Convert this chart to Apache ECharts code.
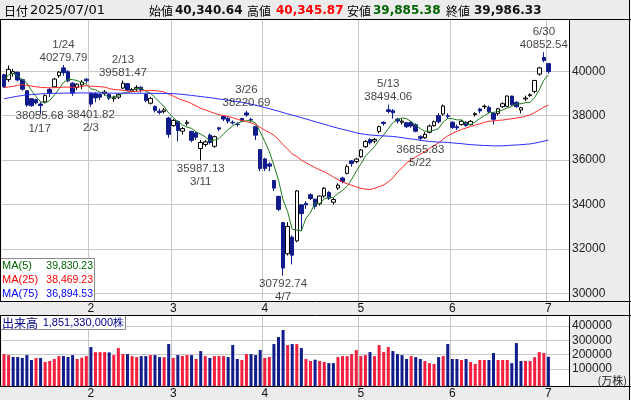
<!DOCTYPE html>
<html><head><meta charset="utf-8">
<script src="https://cdn.jsdelivr.net/npm/echarts@6/dist/echarts.min.js"></script>
<style>html,body{margin:0;padding:0;background:#ececec}#c{width:631px;height:400px}</style>
</head><body><div id="c"></div>
<script>
// ---------------- data ----------------
const year = 2025;
const dates = ['1/6','1/7','1/8','1/9','1/10','1/14','1/15','1/16','1/17','1/20','1/21','1/22','1/23','1/24','1/27','1/28','1/29','1/30','1/31',
'2/3','2/4','2/5','2/6','2/7','2/10','2/12','2/13','2/14','2/17','2/18','2/19','2/20','2/21','2/25','2/26','2/27','2/28',
'3/3','3/4','3/5','3/6','3/7','3/10','3/11','3/12','3/13','3/14','3/17','3/18','3/19','3/21','3/24','3/25','3/26','3/27','3/28','3/31',
'4/1','4/2','4/3','4/4','4/7','4/8','4/9','4/10','4/11','4/14','4/15','4/16','4/17','4/18','4/21','4/22','4/23','4/24','4/25','4/28','4/30',
'5/1','5/2','5/7','5/8','5/9','5/12','5/13','5/14','5/15','5/16','5/19','5/20','5/21','5/22','5/23','5/26','5/27','5/28','5/29','5/30',
'6/2','6/3','6/4','6/5','6/6','6/9','6/10','6/11','6/12','6/13','6/16','6/17','6/18','6/19','6/20','6/23','6/24','6/25','6/26','6/27','6/30',
'7/1'];
const openP = [39840,39620,39900,39950,39620,39120,38760,38720,38520,38620,39180,39300,39800,40150,39980,39460,39270,39380,39640,
39000,38980,38950,39000,38950,38760,38830,39240,39440,39100,39200,39280,38950,38560,38420,38200,38180,37890,
37550,37740,37300,37650,37290,37220,36520,36700,37120,36620,37450,37960,37880,37700,37620,37870,38120,37830,37500,36470,
36050,35820,35080,34360,33190,31780,32530,32360,33985,34050,34440,34240,34030,34380,34540,34100,34740,35190,35400,35960,35930,
36150,36600,36920,36850,37290,37700,38260,38220,37840,37700,37680,37700,37590,37050,37000,37250,37550,38000,38070,37990,
37700,37500,37600,37700,37600,38050,38300,38400,38370,38100,38100,38400,38420,38880,38600,38250,38750,38900,39090,39870,40620,
40340.64];
const closeP = [39307.05,40083.30,39981.06,39605.09,39190.40,38474.30,38444.58,38572.60,38451.46,38902.50,39027.98,39646.25,39958.87,39931.98,39565.80,39016.87,39414.78,39513.97,39572.49,
38520.09,38798.37,38831.48,39066.53,38787.02,38801.17,38963.70,39461.47,39149.43,39174.25,39270.40,39164.61,38678.04,38776.94,38237.79,38142.37,38256.17,37155.50,
37785.47,37331.18,37418.24,37704.93,36887.17,37028.27,36793.11,36819.09,36790.03,37053.10,37396.52,37845.42,37751.88,37677.06,37608.49,37780.54,38027.29,37799.97,37120.33,35617.56,
35624.48,35725.87,34735.93,33780.58,31136.58,33012.58,31714.03,34609.00,33585.58,33982.36,34267.54,33920.40,34377.60,34730.28,34279.92,34220.60,34868.63,35039.15,35705.74,35839.99,36045.38,
36452.30,36830.69,36779.66,36928.63,37503.33,37644.26,38183.26,38128.13,37755.51,37753.72,37498.63,37529.49,37298.98,36985.87,37160.47,37531.53,37724.11,37722.40,38432.98,37965.10,
37470.67,37446.81,37747.45,37554.49,37741.61,38088.57,38211.51,38421.19,38173.09,37834.25,38311.33,38536.74,38885.15,38488.34,38403.23,38354.09,38790.56,38942.07,39584.58,40150.79,40487.39,
39986.33];
const lowP = [39250,39520,39760,39550,39120,38400,38400,38500,38055.68,38560,38840,39260,39700,39800,39500,38890,39150,39200,39450,
38401.82,38600,38700,38900,38700,38620,38750,39200,39100,39050,39100,39050,38600,38500,38150,38050,38100,37000,
37500,36840,37150,37550,36800,36900,35987.13,36600,36700,36550,37300,37750,37650,37600,37500,37700,37950,37700,36900,35500,
35500,35500,34600,33700,30792.74,31700,31300,32300,32800,33800,34200,33800,33950,34300,34200,34000,34650,34950,35350,35700,35850,
36100,36550,36700,36750,37200,37550,38100,37860,37650,37600,37450,37450,37250,36855.83,36950,37200,37500,37650,38000,37850,
37400,37350,37550,37500,37550,37950,38100,38300,38100,37600,38000,38350,38400,38450,38350,38100,38650,38850,39000,39800,40400,
39885.38];
const highP = [39880,40260,40110,39990,39650,39150,38800,38760,38620,38960,39250,39700,40000,40279.79,40050,39500,39450,39600,39700,
39050,39050,39000,39150,39000,38900,39000,39581.47,39470,39250,39370,39320,39000,38850,38450,38320,38350,37950,
37850,37780,37500,37800,37320,37280,36900,36900,37200,37100,37500,37980,37950,37780,37700,37900,38220.69,37900,37550,36500,
36100,35900,35100,34400,33200,33200,32600,34650,34000,34150,34500,34260,34400,34780,34600,34300,34950,35250,35800,36000,36100,
36500,36900,36980,37000,37550,37750,38494.06,38300,37900,37850,37720,37750,37650,37120,37250,37600,37780,38120,38500,38100,
37750,37600,37800,37750,37800,38150,38350,38500,38450,38150,38350,38600,38900,38900,38650,38400,38900,39000,39600,40200,40852.54,
40345.87];
// volume in 万株
const volume = [204000,197000,184000,184000,177000,197000,163000,177000,177000,149000,156000,170000,190000,190000,184000,197000,170000,179000,190000,
253000,218000,218000,218000,216000,197000,246000,204000,204000,190000,183000,190000,190000,197000,197000,183000,183000,274000,
177000,197000,190000,197000,197000,170000,225000,190000,177000,190000,190000,190000,183000,267000,170000,163000,204000,204000,197000,232000,
177000,184000,274000,323000,372000,267000,274000,274000,246000,170000,156000,165000,156000,149000,141000,141000,183000,190000,190000,204000,232000,
190000,197000,218000,190000,267000,218000,253000,225000,204000,197000,170000,190000,183000,170000,156000,141000,135000,183000,190000,274000,
170000,170000,163000,170000,149000,135000,163000,163000,163000,211000,163000,163000,163000,141000,281000,156000,156000,156000,183000,218000,211000,
185133];
const ma5 = [39636,39827,39909,39774,39633,39467,39139,38857,38627,38569,38680,38920,39197,39494,39626,39624,39578,39489,39417,
39208,39164,39047,38958,38801,38857,38890,39016,39032,39110,39204,39244,39087,39013,38826,38600,38418,38114,
37915,37734,37589,37479,37425,37274,37166,37046,36863,36897,36970,37181,37367,37545,37656,37733,37769,37779,37667,37269,
36838,36378,35765,35097,34201,33679,32876,32851,32812,33381,33632,34073,34027,34256,34315,34306,34496,34628,34823,35135,35500,
35816,36175,36390,36607,36899,37137,37408,37677,37843,37893,37864,37733,37567,37413,37295,37301,37340,37425,37714,37875,
37863,37808,37813,37637,37592,37716,37869,38004,38127,38146,38190,38255,38348,38411,38525,38533,38584,38596,38815,39165,39591,
39830.23];
const ma25 = [39260,39290,39320,39369,39396,39365,39331,39298,39273,39263,39249,39260,39264,39283,39287,39273,39287,39315,39349,
39324,39314,39302,39282,39222,39179,39165,39140,39107,39089,39093,39120,39130,39138,39129,39099,39068,38968,
38881,38777,38691,38639,38538,38438,38327,38259,38179,38108,38041,38003,37961,37910,37836,37781,37735,37676,37595,37472,
37346,37246,37109,36930,36690,36499,36274,36162,35997,35881,35770,35655,35558,35475,35364,35237,35118,35010,34931,34860,34791,
34728,34689,34675,34728,34803,34880,35018,35191,35456,35646,35877,35994,36143,36263,36378,36523,36657,36776,36943,37092,
37196,37293,37374,37443,37511,37576,37632,37697,37747,37760,37787,37801,37831,37861,37887,37921,37971,38038,38142,38261,38380,
38469.23];
const ma75 = [38760,38800,38840,38875,38905,38930,38950,38965,38978,38988,38996,39003,39008,39012,39015,39018,39020,39020,39020,
39020,39020,39018,39016,39014,39012,39010,39010,39010,39010,39010,39008,39006,39004,39002,39000,38998,38995,
38990,38975,38955,38935,38910,38885,38860,38835,38810,38780,38750,38720,38690,38660,38630,38600,38560,38515,38470,38420,
38365,38310,38255,38200,38140,38080,38025,37970,37910,37850,37790,37730,37670,37610,37550,37490,37435,37383,37335,37279,37226,
37184,37153,37130,37110,37096,37085,37075,37063,37038,37009,36976,36949,36926,36894,36862,36835,36825,36810,36805,36790,
36773,36755,36738,36713,36694,36680,36666,36656,36649,36636,36637,36643,36651,36669,36677,36691,36709,36725,36761,36803,36852,
36894.53];
const priceTicks = [30000,32000,34000,36000,38000,40000];
const volumeTicks = [100000,200000,300000,400000];
const peaks = [['1/24','high'],['2/13','high'],['3/26','high'],['5/13','high'],['6/30','high'],
               ['1/17','low'],['2/3','low'],['3/11','low'],['4/7','low'],['5/22','low']];
const emptySlots = 4;

// ---------------- chart ----------------
const UP_VOL = '#f2203f', DOWN = '#101c8c', GRID = '#c8c8c8';
const NUMFONT = '"Liberation Sans", Arial, sans-serif';
const JPFONT = '"Noto Sans CJK JP", sans-serif';
const cats = dates.concat(Array.from({length: emptySlots}, (_, k) => ' '.repeat(k + 1)));
const monthOf = d => parseInt(d.split('/')[0], 10);
const isMonthStart = idx => idx > 0 && idx < dates.length && monthOf(dates[idx]) !== monthOf(dates[idx - 1]);
const fmt2 = v => v.toLocaleString('en-US', {minimumFractionDigits: 2, maximumFractionDigits: 2});
const pad = n => String(n).padStart(2, '0');

const MAIN = {left: 1.7, top: 20, width: 567.3, height: 281};
const VOL = {left: 1.7, top: 316, width: 567.3, height: 70};
// y scales derived from the gridline positions in the picture
const mainMin = 29653, mainMax = 42306;
const volMin = -18630, volMax = 469860;

const xAxisCommon = {
  type: 'category', data: cats, boundaryGap: true,
  axisLine: {show: false}, axisTick: {show: false},
  axisLabel: {interval: (i) => isMonthStart(i), formatter: v => String(monthOf(v)), margin: 2,
    color: '#111', fontSize: 12, fontFamily: NUMFONT},
  splitLine: {show: true, interval: (i) => isMonthStart(i), lineStyle: {color: GRID, width: 1}}
};

// label of 1/17 sits on the same text row as the neighbouring 2/3 label in the picture
const labelShift = {'1/17': [-1, -7]};
const peakData = peaks.map(([d, t]) => {
  const i = dates.indexOf(d);
  const v = t === 'high' ? highP[i] : lowP[i];
  return {
    value: [i, v],
    label: {
      position: t === 'high' ? 'top' : 'bottom',
      distance: t === 'high' ? 1 : 2,
      offset: labelShift[d] || [0, 0],
      formatter: t === 'high' ? d + '\n' + v.toFixed(2) : v.toFixed(2) + '\n' + d
    }
  };
});

const last = dates.length - 1;
const [lm, ld] = dates[last].split('/');
const headerY = 11;
const hdr = (text, x, font, fill) => ({type: 'text', x, y: headerY, silent: true, z: 50,
  style: {text, font, fill, verticalAlign: 'middle', align: 'left'}});
const hline = (y, x1, x2) => ({type: 'line', silent: true, z: 60, shape: {x1, y1: y, x2, y2: y}, style: {stroke: '#000', lineWidth: 1}});
const vline = (x, y1, y2) => ({type: 'line', silent: true, z: 60, shape: {x1: x, y1, x2: x, y2}, style: {stroke: '#000', lineWidth: 1}});

const maRows = [['MA(5)', ma5, '#006400'], ['MA(25)', ma25, '#ff0000'], ['MA(75)', ma75, '#0000ff']];
const legendEls = [{type: 'rect', silent: true, z: 55, shape: {x: 0.5, y: 258.5, width: 94, height: 43},
  style: {fill: '#fff', stroke: '#8a8a8a', lineWidth: 1}}];
maRows.forEach(([name, arr, col], k) => {
  const y = 266 + k * 14;
  legendEls.push({type: 'text', silent: true, z: 56, x: 2, y, style: {text: name, font: '11px ' + NUMFONT, fill: col, verticalAlign: 'middle'}});
  legendEls.push({type: 'text', silent: true, z: 56, x: 93, y, style: {text: fmt2(arr[arr.length - 1]), font: '10.5px ' + NUMFONT, fill: col, verticalAlign: 'middle', align: 'right'}});
});

const volText = (volume[last] * 10000).toLocaleString('en-US');

const option = {
  animation: false,
  backgroundColor: '#ececec',
  grid: [
    Object.assign({show: true, backgroundColor: '#fff', borderWidth: 0}, MAIN),
    Object.assign({show: true, backgroundColor: '#fff', borderWidth: 0}, VOL)
  ],
  xAxis: [
    Object.assign({gridIndex: 0}, xAxisCommon),
    Object.assign({gridIndex: 1}, xAxisCommon)
  ],
  yAxis: [
    {type: 'value', gridIndex: 0, position: 'right', min: mainMin, max: mainMax, scale: true,
     axisLine: {show: false}, axisTick: {show: false, customValues: priceTicks},
     axisLabel: {customValues: priceTicks, formatter: v => String(v), margin: 3, color: '#222', fontSize: 12, fontFamily: NUMFONT},
     splitLine: {show: true, lineStyle: {color: GRID}}},
    {type: 'value', gridIndex: 1, position: 'right', min: volMin, max: volMax,
     axisLine: {show: false}, axisTick: {show: false, customValues: volumeTicks},
     axisLabel: {customValues: volumeTicks, formatter: v => String(v), margin: 3, color: '#222', fontSize: 12, fontFamily: NUMFONT},
     splitLine: {show: true, lineStyle: {color: GRID}}}
  ],
  series: [
    {type: 'candlestick', xAxisIndex: 0, yAxisIndex: 0, barWidth: 4, z: 2,
     data: dates.map((d, i) => [openP[i], closeP[i], lowP[i], highP[i]]),
     itemStyle: {color: '#ffffff', color0: DOWN, borderColor: '#000000', borderColor0: DOWN, borderWidth: 1}},
    {type: 'line', xAxisIndex: 0, yAxisIndex: 0, data: ma5, showSymbol: false, z: 3, lineStyle: {color: '#1e7b1e', width: 1}},
    {type: 'line', xAxisIndex: 0, yAxisIndex: 0, data: ma25, showSymbol: false, z: 3, lineStyle: {color: '#ff2a2a', width: 1}},
    {type: 'line', xAxisIndex: 0, yAxisIndex: 0, data: ma75, showSymbol: false, z: 3, lineStyle: {color: '#2a2aff', width: 1}},
    {type: 'scatter', xAxisIndex: 0, yAxisIndex: 0, symbolSize: 0, z: 6, data: peakData,
     label: {show: true, color: '#111', fontSize: 11.5, lineHeight: 13, fontFamily: NUMFONT, align: 'center'}},
    {type: 'custom', xAxisIndex: 1, yAxisIndex: 1, z: 2,
     data: volume.map((v, i) => [i, v, i === 0 || closeP[i] >= closeP[i - 1] ? 1 : 0]),
     encode: {x: 0, y: 1},
     renderItem: (params, api) => {
       const top = api.coord([api.value(0), api.value(1)]);
       const cs = params.coordSys;
       const bottom = cs.y + cs.height;
       const w = 3;
       return {type: 'rect', shape: {x: top[0] - w / 2, y: top[1], width: w, height: bottom - top[1]},
         style: {fill: api.value(2) ? UP_VOL : DOWN}};
     }}
  ],
  graphic: [
    hdr('日付', 4, '12px ' + JPFONT, '#000'),
    hdr(year + '/' + pad(lm) + '/' + pad(ld), 30, '13px "DejaVu Sans", sans-serif', '#000'),
    hdr('始値', 149, '12px ' + JPFONT, '#000'),
    hdr(fmt2(openP[last]), 175, 'bold 12px "DejaVu Sans", sans-serif', '#111'),
    hdr('高値', 247, '12px ' + JPFONT, '#000'),
    hdr(fmt2(highP[last]), 276, 'bold 12px "DejaVu Sans", sans-serif', '#ff0000'),
    hdr('安値', 347, '12px ' + JPFONT, '#000'),
    hdr(fmt2(lowP[last]), 373, 'bold 12px "DejaVu Sans", sans-serif', '#006400'),
    hdr('終値', 446, '12px ' + JPFONT, '#000'),
    hdr(fmt2(closeP[last]), 474, 'bold 12px "DejaVu Sans", sans-serif', '#111'),
    hline(19.5, 0, 631), hline(301.5, 0, 631), hline(315.5, 0, 631), hline(386.5, 0, 631),
    vline(0.5, 19.5, 301.5), vline(0.5, 315.5, 386.5),
    vline(569.5, 19.5, 301.5), vline(569.5, 315.5, 386.5),
    vline(629.5, 0, 400),
    ...legendEls,
    {type: 'rect', silent: true, z: 55, shape: {x: 0.5, y: 315.5, width: 125, height: 14},
     style: {fill: '#fff', stroke: '#8a8a8a', lineWidth: 1}},
    {type: 'text', silent: true, z: 56, x: 2, y: 323, style: {text: '出来高', font: '12px ' + JPFONT, fill: '#00008b', verticalAlign: 'middle'}},
    {type: 'text', silent: true, z: 56, x: 124, y: 323, style: {text: volText + '株', font: '11px ' + NUMFONT, fill: '#00008b', verticalAlign: 'middle', align: 'right'}},
    {type: 'text', silent: true, z: 56, x: 627, y: 381, style: {text: '(万株)', font: '11px ' + JPFONT, fill: '#222', verticalAlign: 'middle', align: 'right'}}
  ]
};

const chart = echarts.init(document.getElementById('c'), null, {renderer: 'canvas', width: 631, height: 400});
chart.setOption(option);
</script>
</body></html>
